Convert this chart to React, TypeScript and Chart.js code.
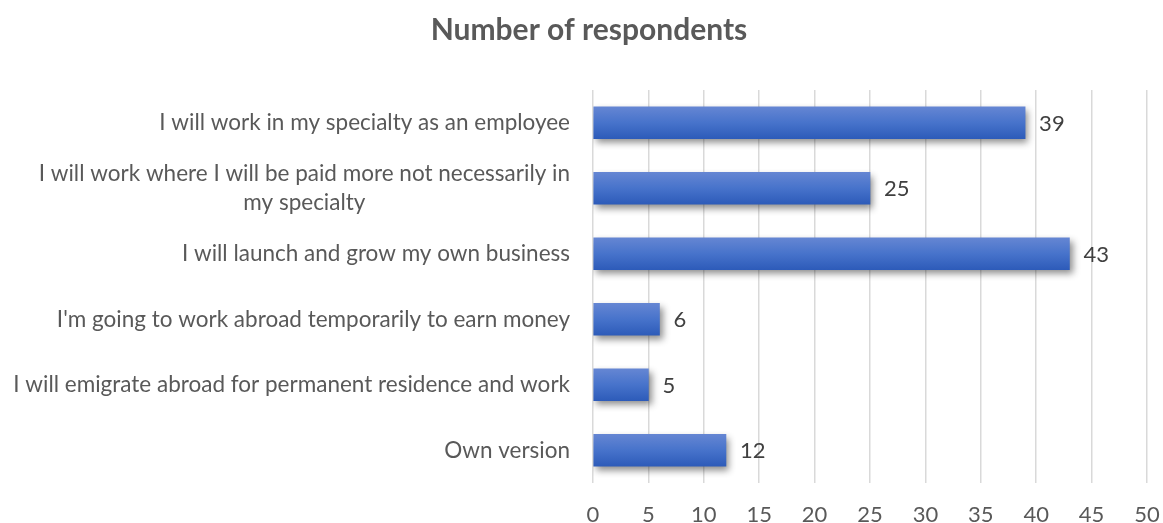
import React, { useEffect, useRef } from "react";
import { Chart, registerables } from "chart.js";

Chart.register(...registerables);

const TITLE = "Number of respondents";
const categories: string[][] = [
  ["I will work in my specialty as an employee"],
  ["I will work where I will be paid more not necessarily in", "my specialty"],
  ["I will launch and grow my own business"],
  ["I'm going to work abroad temporarily to earn money"],
  ["I will emigrate abroad for permanent residence and work"],
  ["Own version"],
];
const respondents: number[] = [39, 25, 43, 6, 5, 12];
const xTicks: number[] = [0, 5, 10, 15, 20, 25, 30, 35, 40, 45, 50];

const FONT = "Lato";
const BAR_T = 32;

export default function App() {
  const ref = useRef<HTMLCanvasElement | null>(null);

  useEffect(() => {
    document.body.style.margin = "0";
    const canvas = ref.current;
    if (!canvas) return;

    const shadowPlugin = {
      id: "barShadow",
      beforeDatasetsDraw(chart: any) {
        const ctx = chart.ctx;
        ctx.save();
        ctx.shadowColor = "rgba(0,0,0,0.45)";
        ctx.shadowBlur = 7;
        ctx.shadowOffsetX = 3;
        ctx.shadowOffsetY = 4;
      },
      afterDatasetsDraw(chart: any) {
        chart.ctx.restore();
      },
    };

    const labelPlugin = {
      id: "labels",
      afterDraw(chart: any) {
        const ctx = chart.ctx;
        const y = chart.scales.y;
        const meta = chart.getDatasetMeta(0);
        ctx.save();
        // title
        ctx.font = `bold 30px ${FONT}`;
        ctx.fillStyle = "#595959";
        ctx.textAlign = "center";
        ctx.textBaseline = "middle";
        ctx.fillText(TITLE, 589, 30);
        // category labels
        ctx.font = `22.5px ${FONT}`;
        const lh = 29;
        categories.forEach((lines, i) => {
          const cy = y.getPixelForValue(i);
          const maxW = Math.max(...lines.map((l) => ctx.measureText(l).width));
          const cx = chart.chartArea.left - 23 - maxW / 2;
          const startY = cy - ((lines.length - 1) * lh) / 2;
          lines.forEach((l, j) => ctx.fillText(l, cx, startY + j * lh));
        });
        // value labels
        ctx.fillStyle = "#404040";
        ctx.font = `22px ${FONT}`;
        ctx.textAlign = "left";
        meta.data.forEach((bar: any, i: number) => {
          ctx.fillText(String(respondents[i]), bar.x + 14, bar.y + 1);
        });
        ctx.restore();
      },
    };

    const chart = new Chart(canvas, {
      type: "bar",
      data: {
        labels: categories.map((c) => c.join(" ")),
        datasets: [
          {
            data: respondents,
            barThickness: BAR_T,
            backgroundColor: (c: any) => {
              const ch = c.chart;
              if (!ch.chartArea) return "#4472c4";
              const cy = ch.scales.y.getPixelForValue(c.dataIndex);
              const g = ch.ctx.createLinearGradient(0, cy - BAR_T / 2, 0, cy + BAR_T / 2);
              g.addColorStop(0, "#6586d3");
              g.addColorStop(0.5, "#4773cb");
              g.addColorStop(1, "#2d5bb9");
              return g;
            },
            borderWidth: 0,
          },
        ],
      },
      options: {
        indexAxis: "y",
        animation: false,
        responsive: true,
        maintainAspectRatio: false,
        layout: { padding: { top: 90, right: 16, bottom: 0, left: 0 } },
        plugins: {
          legend: { display: false },
          tooltip: { enabled: false },
          title: { display: false },
        },
        scales: {
          x: {
            min: 0,
            max: 50,
            afterBuildTicks: (s: any) => {
              s.ticks = xTicks.map((v) => ({ value: v }));
            },
            grid: { color: "#d9d9d9", lineWidth: 1.5, drawTicks: false },
            border: { display: false },
            ticks: {
              color: "#595959",
              font: { family: FONT, size: 22 },
              padding: 19,
            },
            afterFit: (s: any) => {
              s.height = 40;
              s.paddingLeft = 0;
              s.paddingRight = 0;
            },
          },
          y: {
            grid: { display: false },
            border: { display: false },
            ticks: { display: false },
            afterFit: (s: any) => {
              s.width = 593;
              s.paddingTop = 0;
              s.paddingBottom = 0;
            },
          },
        },
      },
      plugins: [shadowPlugin, labelPlugin],
    } as any);

    return () => chart.destroy();
  }, []);

  return (
    <div style={{ width: 1163, height: 523, position: "relative" }}>
      <canvas ref={ref} />
    </div>
  );
}
